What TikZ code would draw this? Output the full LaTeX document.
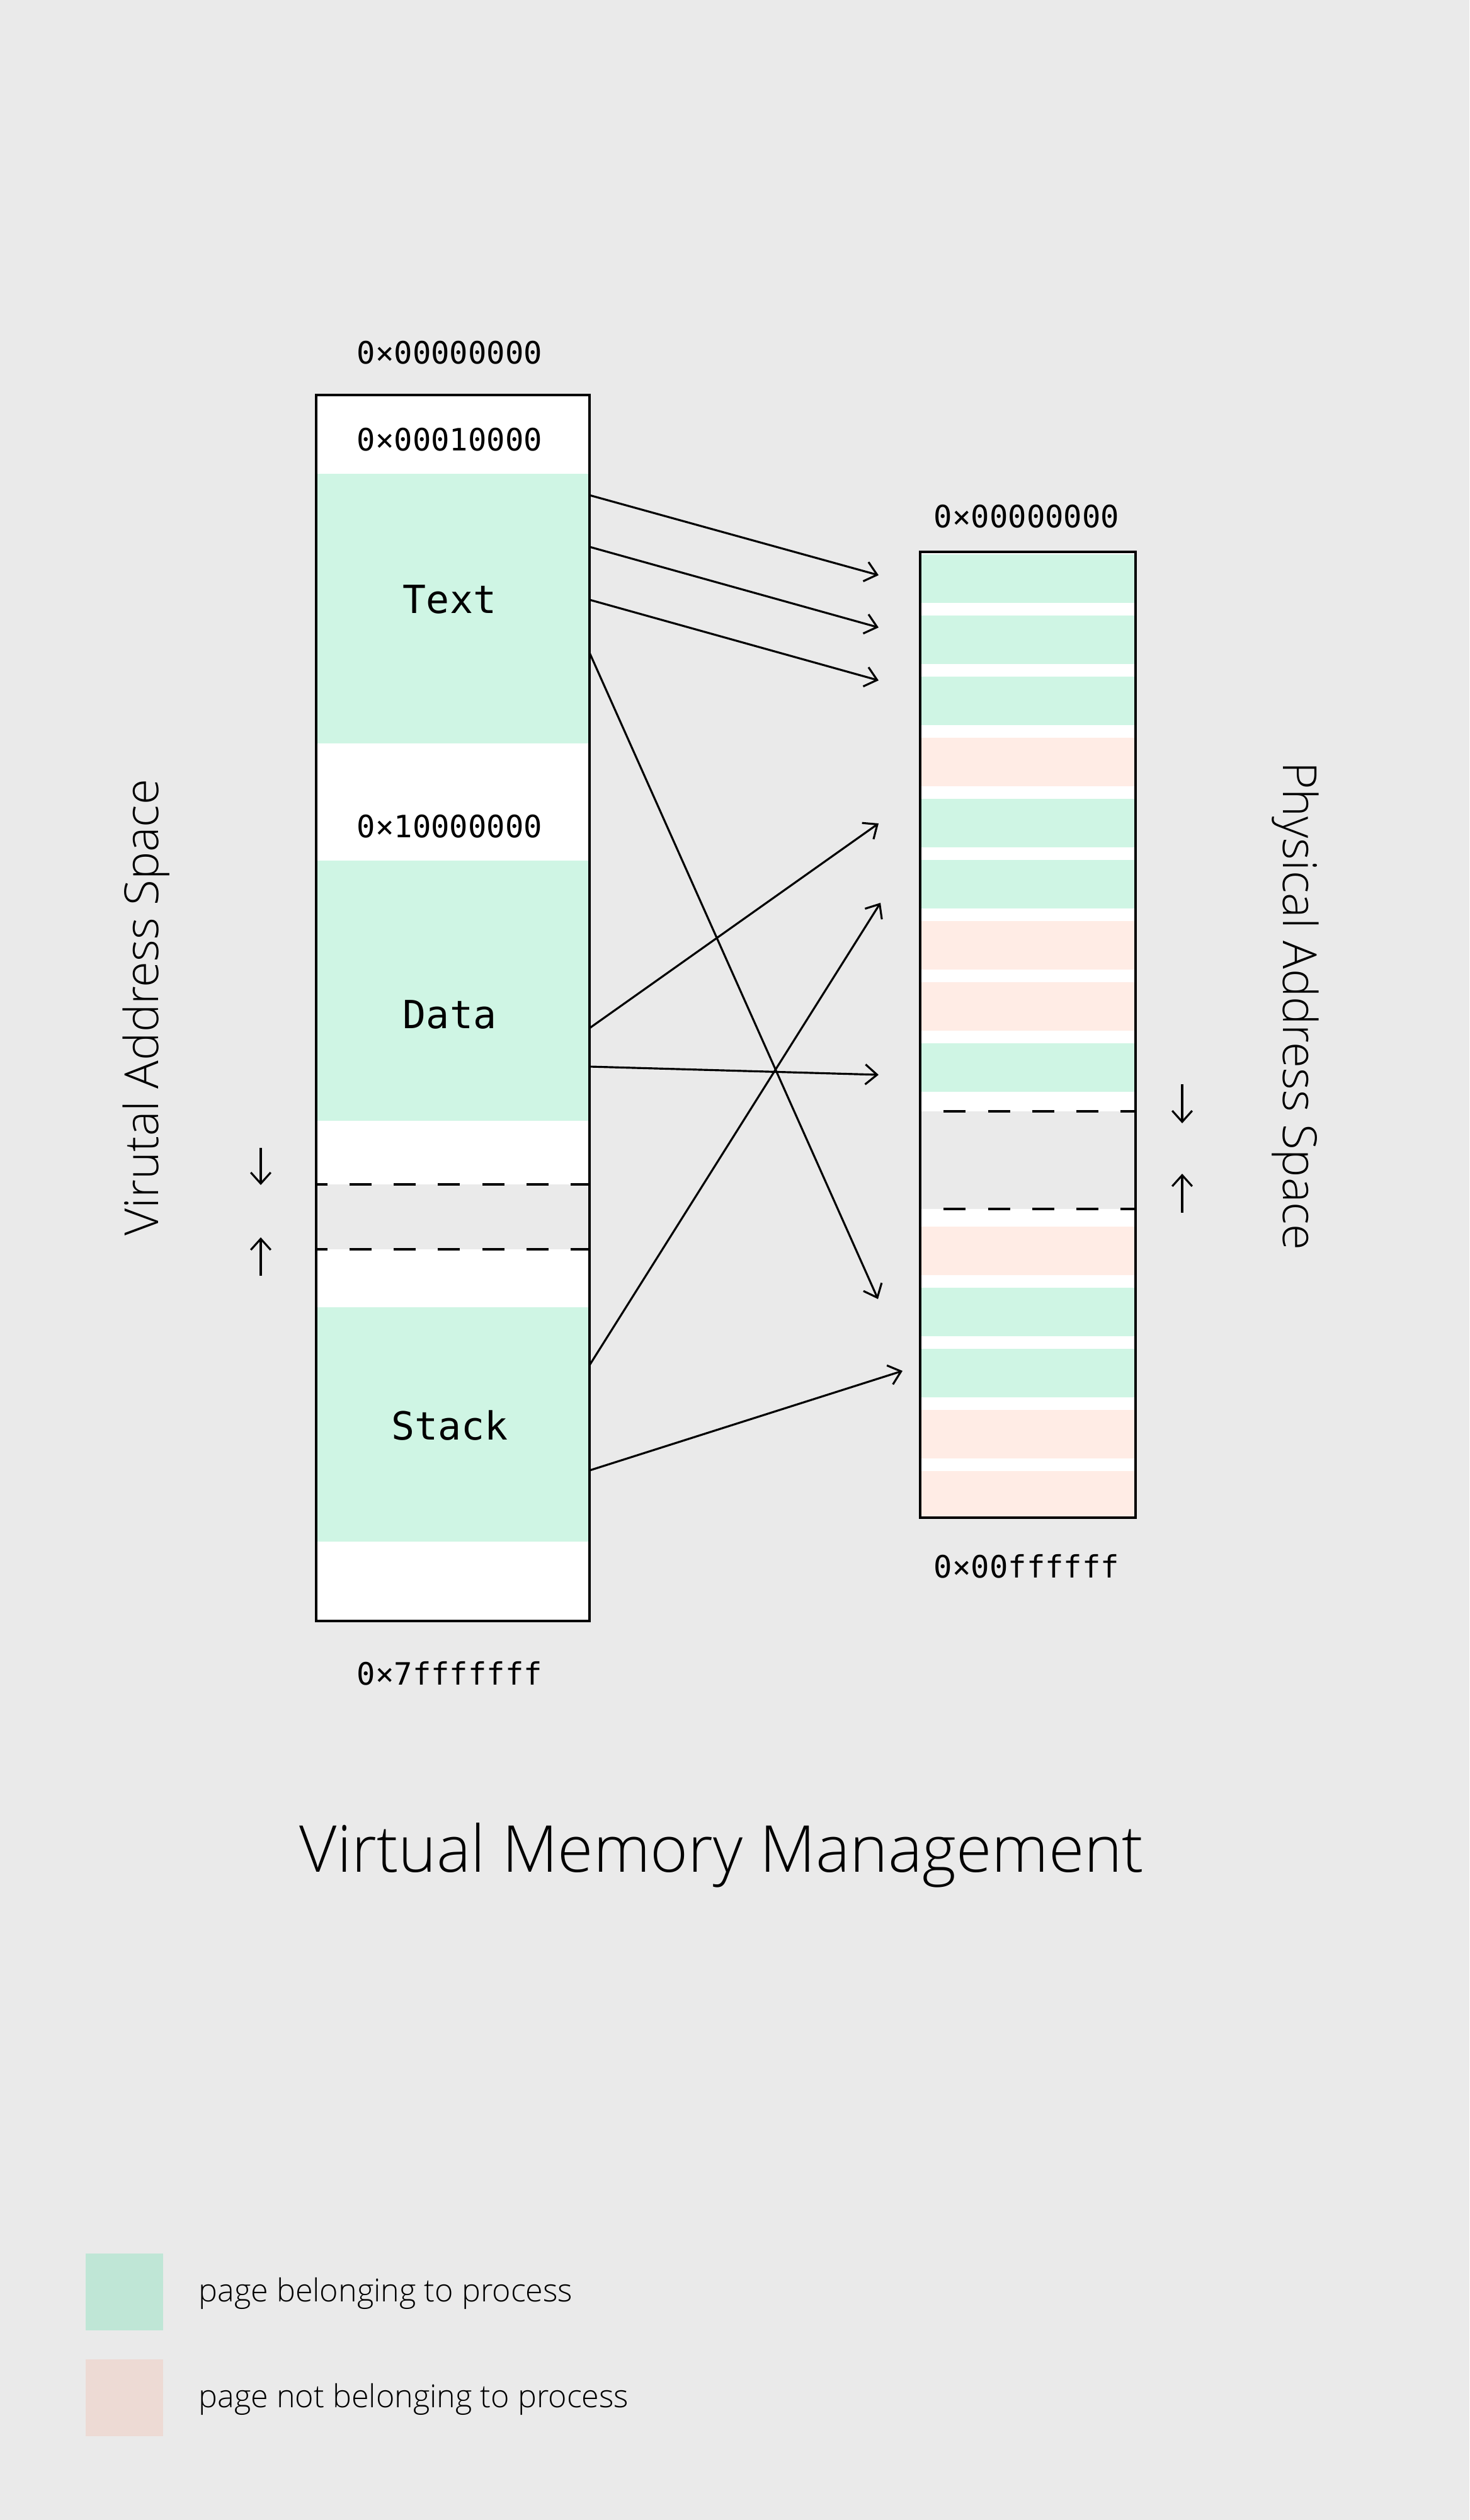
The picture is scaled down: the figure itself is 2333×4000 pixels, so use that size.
\documentclass[tikz,border=0pt]{standalone}
\usepackage{fontspec}
\usetikzlibrary{arrows.meta}
\IfFontExistsTF{Open Sans Light}{\newfontfamily\thinfont{Open Sans Light}}{\newfontfamily\thinfont{Open Sans}}
\newfontfamily\hexfont{DejaVu Sans Mono}
\definecolor{bg}{HTML}{EAEAEA}
\definecolor{pgreen}{HTML}{CFF5E4}
\definecolor{ppink}{HTML}{FFECE5}
\definecolor{lgreen}{HTML}{BFE6D6}
\definecolor{lpink}{HTML}{EDDAD4}
\begin{document}
\begin{tikzpicture}[x=0.1mm,y=-0.1mm,
  hexlabel/.style={font=\hexfont\fontsize{13.9}{16}\selectfont, inner sep=0pt},
  seglabel/.style={font=\hexfont\fontsize{17.5}{20}\selectfont, inner sep=0pt},
  sidelabel/.style={font=\thinfont\fontsize{21.2}{24}\selectfont, inner sep=0pt},
  conn/.style={line width=0.9pt, -{Straight Barb[length=5.3pt,width=9pt]}},
  growarrow/.style={line width=0.9pt, -{Straight Barb[length=5pt,width=9pt]}},
  boxline/.style={line width=1.2pt},
  gapline/.style={line width=1pt, dash pattern=on 10pt off 10pt}]
\useasboundingbox (0,0) rectangle (2333,4000);
\fill[bg] (0,0) rectangle (2333,4000);

% ---------- virtual address space ----------
\fill[white] (502,627) rectangle (936,2573);
\fill[pgreen] (502,752) rectangle (936,1180);
\fill[pgreen] (502,1366) rectangle (936,1779);
\fill[bg] (502,1880) rectangle (936,1983);
\fill[pgreen] (502,2075) rectangle (936,2447);
\draw[gapline, dash phase=5pt] (502,1880) -- (936,1880);
\draw[gapline, dash phase=5pt] (502,1983) -- (936,1983);
\draw[boxline] (502,627) rectangle (936,2573);

\node[hexlabel] (vtop) at (714,560) {0×00000000};
\node[hexlabel] (vtext0) at (714,698) {0×00010000};
\node[seglabel] (vtext) at (714,952) {Text};
\node[hexlabel] (vdata0) at (714,1312) {0×10000000};
\node[seglabel] (vdata) at (714,1610) {Data};
\node[seglabel] (vstack) at (714,2263) {Stack};
\node[hexlabel] (vbot) at (714,2656) {0×7fffffff};

\coordinate (la1) at (414,1822); \coordinate (la2) at (414,1881);
\coordinate (lb1) at (414,2025); \coordinate (lb2) at (414,1964);
\draw[growarrow] (la1) -- (la2);
\draw[growarrow] (lb1) -- (lb2);

\node[sidelabel, rotate=90, anchor=base] (vname) at (251,1599) {Virutal Address Space};

% ---------- physical address space ----------
\fill[white] (1461,876) rectangle (1803,2409);
\foreach \i/\c in {0/pgreen,1/pgreen,2/pgreen,3/ppink,4/pgreen,5/pgreen,6/ppink,7/ppink,8/pgreen}
  \fill[\c] (1461,{880+97*\i}) rectangle (1803,{957+97*\i});
\foreach \i/\c in {0/ppink,1/pgreen,2/pgreen,3/ppink}
  \fill[\c] (1461,{1947+97*\i}) rectangle (1803,{2024+97*\i});
\fill[ppink] (1461,2335) rectangle (1803,2409);
\fill[bg] (1461,1764) rectangle (1803,1919);
\draw[gapline, dash phase=9.4pt] (1461,1764) -- (1803,1764);
\draw[gapline, dash phase=9.4pt] (1461,1919) -- (1803,1919);
\draw[boxline] (1461,876) rectangle (1803,2409);

\node[hexlabel] (ptop) at (1630,820) {0×00000000};
\node[hexlabel] (pbot) at (1630,2486) {0×00ffffff};

\coordinate (ra1) at (1877,1721); \coordinate (ra2) at (1877,1783);
\coordinate (rb1) at (1877,1925); \coordinate (rb2) at (1877,1863);
\draw[growarrow] (ra1) -- (ra2);
\draw[growarrow] (rb1) -- (rb2);

\node[sidelabel, rotate=-90, anchor=base] (pname) at (2037,1597) {Physical Address Space};

% ---------- mappings ----------
\coordinate (s1) at (936,786);  \coordinate (e1) at (1395,913);
\coordinate (s2) at (936,868);  \coordinate (e2) at (1395,996);
\coordinate (s3) at (936,952);  \coordinate (e3) at (1395,1080);
\coordinate (s4) at (936,1036); \coordinate (e4) at (1394,2062);
\coordinate (s5) at (936,1632); \coordinate (e5) at (1395,1307);
\coordinate (s6) at (936,1693); \coordinate (e6) at (1395,1706);
\coordinate (s7) at (936,2167); \coordinate (e7) at (1398,1433);
\coordinate (s8) at (936,2334); \coordinate (e8) at (1433,2176);
\foreach \k in {1,...,8} \draw[conn] (s\k) -- (e\k);

% ---------- title ----------
\node[font=\thinfont\fontsize{29.2}{33}\selectfont, inner sep=0pt, anchor=base] (title) at (1146,2971) {Virtual Memory Management};

% ---------- legend ----------
\fill[lgreen] (136,3577) rectangle (259,3699);
\fill[lpink] (136,3745) rectangle (259,3867);
\node[font=\thinfont\fontsize{14.3}{16}\selectfont, inner sep=0pt, anchor=base west] (leg1) at (315,3653) {page belonging to process};
\node[font=\thinfont\fontsize{14.3}{16}\selectfont, inner sep=0pt, anchor=base west] (leg2) at (315,3821) {page not belonging to process};
\end{tikzpicture}
\end{document}
